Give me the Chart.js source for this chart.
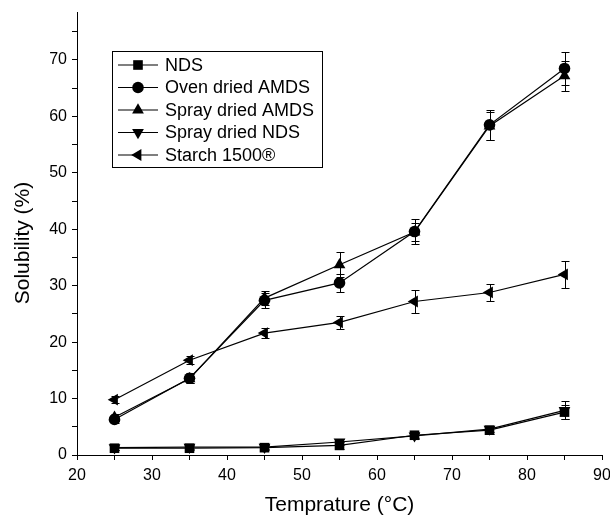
<!DOCTYPE html>
<html>
<head>
<meta charset="utf-8">
<script src="https://cdn.jsdelivr.net/npm/chart.js@4"></script>
<style>
html,body{margin:0;padding:0;background:#fff;}
#wrap{width:610px;height:518px;}
</style>
</head>
<body>
<div id="wrap"><canvas id="c" width="610" height="518"></canvas></div>
<script>
// ---- data ----
const temps = [25, 35, 45, 55, 65, 75, 85];
const seriesNames = ["NDS", "Oven dried AMDS", "Spray dried AMDS", "Spray dried NDS", "Starch 1500®"];
const ndsVals       = [1.2, 1.2, 1.3, 1.7, 3.5, 4.4, 7.6];
const ndsErr        = [0.4, 0.4, 0.4, 0.6, 0.5, 0.6, 1.2];
const ovenAmdsVals  = [6.3, 13.6, 27.4, 30.5, 39.6, 58.5, 68.5];
const ovenAmdsErr   = [0.6, 0.9, 1.3, 1.6, 2.2, 2.6, 2.9];
const sprayAmdsVals = [6.7, 13.5, 27.8, 33.7, 39.5, 58.3, 67.2];
const sprayAmdsErr  = [0.6, 0.8, 1.2, 2.2, 1.6, 2.4, 2.7];
const sprayNdsVals  = [1.3, 1.4, 1.4, 2.3, 3.4, 4.6, 7.9];
const sprayNdsErr   = [0.4, 0.4, 0.4, 0.6, 0.5, 0.6, 1.6];
const starchVals    = [9.8, 16.8, 21.6, 23.5, 27.2, 28.8, 32.0];
const starchErr     = [0.6, 0.7, 0.9, 1.2, 2.0, 1.5, 2.4];
const xTickValues = [20, 25, 30, 35, 40, 45, 50, 55, 60, 65, 70, 75, 80, 85, 90];
const yTickValues = [0, 5, 10, 15, 20, 25, 30, 35, 40, 45, 50, 55, 60, 65, 70, 75];
const yTitle = 'Solubility (%)';
const xTitle = 'Temprature (°C)';

const valueSets = [ndsVals, ovenAmdsVals, sprayAmdsVals, sprayNdsVals, starchVals];
const errSets = [ndsErr, ovenAmdsErr, sprayAmdsErr, sprayNdsErr, starchErr];
const styles = [
  {pointStyle: 'rect', rot: 0, r: 6.8},
  {pointStyle: 'circle', rot: 0, r: 5.8},
  {pointStyle: 'triangle', rot: 0, r: 6.8},
  {pointStyle: 'triangle', rot: 180, r: 6.8},
  {pointStyle: 'triangle', rot: 270, r: 6.8}
];

const datasets = seriesNames.map((name, i) => ({
  label: name,
  data: temps.map((t, j) => ({x: t, y: valueSets[i][j]})),
  err: errSets[i],
  borderColor: '#000',
  backgroundColor: '#000',
  borderWidth: 1.2,
  pointStyle: styles[i].pointStyle,
  pointRotation: styles[i].rot,
  pointRadius: styles[i].r,
  pointBorderWidth: 0,
  pointBackgroundColor: '#000',
  showLine: true,
  tension: 0
}));

const fontFam = '"Liberation Sans", Arial, sans-serif';

const errorBarPlugin = {
  id: 'errbars',
  afterDatasetsDraw(chart) {
    const ctx = chart.ctx, xs = chart.scales.x, ys = chart.scales.y;
    ctx.save();
    ctx.strokeStyle = '#000';
    ctx.lineWidth = 1;
    chart.data.datasets.forEach(ds => {
      ds.data.forEach((p, j) => {
        const e = ds.err[j];
        const px = Math.round(xs.getPixelForValue(p.x)) + 0.5;
        const yt = Math.round(ys.getPixelForValue(p.y + e)) + 0.5;
        const yb = Math.round(ys.getPixelForValue(p.y - e)) + 0.5;
        ctx.beginPath();
        ctx.moveTo(px, yt); ctx.lineTo(px, yb);
        ctx.moveTo(px - 4, yt); ctx.lineTo(px + 4, yt);
        ctx.moveTo(px - 4, yb); ctx.lineTo(px + 4, yb);
        ctx.stroke();
      });
    });
    ctx.restore();
  }
};

const yTitlePlugin = {
  id: 'ytitle',
  afterDraw(chart) {
    const ctx = chart.ctx;
    ctx.save();
    ctx.translate(23, 243);
    ctx.rotate(-Math.PI / 2);
    ctx.font = '21px ' + fontFam;
    ctx.fillStyle = '#000';
    ctx.textAlign = 'center';
    ctx.textBaseline = 'middle';
    ctx.fillText(yTitle, 0, 0);
    ctx.restore();
  }
};

const legendPlugin = {
  id: 'boxlegend',
  afterDraw(chart) {
    const ctx = chart.ctx;
    const bx = 112, by = 51, bw = 210, bh = 116;
    ctx.save();
    ctx.strokeStyle = '#000';
    ctx.lineWidth = 1;
    ctx.strokeRect(bx + 0.5, by + 0.5, bw, bh);
    ctx.font = '18px ' + fontFam;
    ctx.textBaseline = 'middle';
    ctx.fillStyle = '#000';
    chart.data.datasets.forEach((ds, i) => {
      const y = by + 14 + i * 22.5;
      ctx.beginPath();
      ctx.lineWidth = 1.2;
      ctx.moveTo(118, y); ctx.lineTo(158, y);
      ctx.stroke();
      Chart.helpers.drawPoint(ctx, {
        pointStyle: ds.pointStyle, rotation: ds.pointRotation,
        radius: ds.pointRadius, borderWidth: 0
      }, 138, y);
      ctx.fillText(ds.label, 165, y + 1);
    });
    ctx.restore();
  }
};

new Chart(document.getElementById('c'), {
  type: 'scatter',
  data: {datasets},
  plugins: [errorBarPlugin, legendPlugin, yTitlePlugin],
  options: {
    responsive: false,
    animation: false,
    layout: {padding: {top: 12, right: 8, left: 0, bottom: 0}},
    plugins: {legend: {display: false}, tooltip: {enabled: false}},
    scales: {
      x: {
        type: 'linear', min: 20, max: 90,
        afterBuildTicks: s => { s.ticks = xTickValues.map(v => ({value: v})); },
        afterFit: s => { s.height = 63; s.paddingLeft = 0; s.paddingRight = 0; },
        border: {display: true, color: '#000', width: 1},
        grid: {drawOnChartArea: false, drawTicks: true, tickLength: 5, color: '#000'},
        ticks: {
          color: '#000', padding: 6, maxRotation: 0, autoSkip: false,
          font: {family: fontFam, size: 16},
          callback: v => (v % 10 === 0 ? String(v) : '')
        },
        title: {display: true, text: xTitle, color: '#000',
                font: {family: fontFam, size: 21}, padding: {top: 0, bottom: 0}}
      },
      y: {
        type: 'linear', min: 0, max: 78.5,
        afterBuildTicks: s => { s.ticks = yTickValues.map(v => ({value: v})); },
        afterFit: s => { s.width = 77; s.paddingTop = 0; s.paddingBottom = 0; },
        border: {display: true, color: '#000', width: 1},
        grid: {drawOnChartArea: false, drawTicks: true, tickLength: 5, color: '#000'},
        ticks: {
          color: '#000', padding: 5, autoSkip: false,
          font: {family: fontFam, size: 16},
          callback: v => (v % 10 === 0 ? String(v) : '')
        },
        title: {display: false}
      }
    }
  }
});
</script>
</body>
</html>
